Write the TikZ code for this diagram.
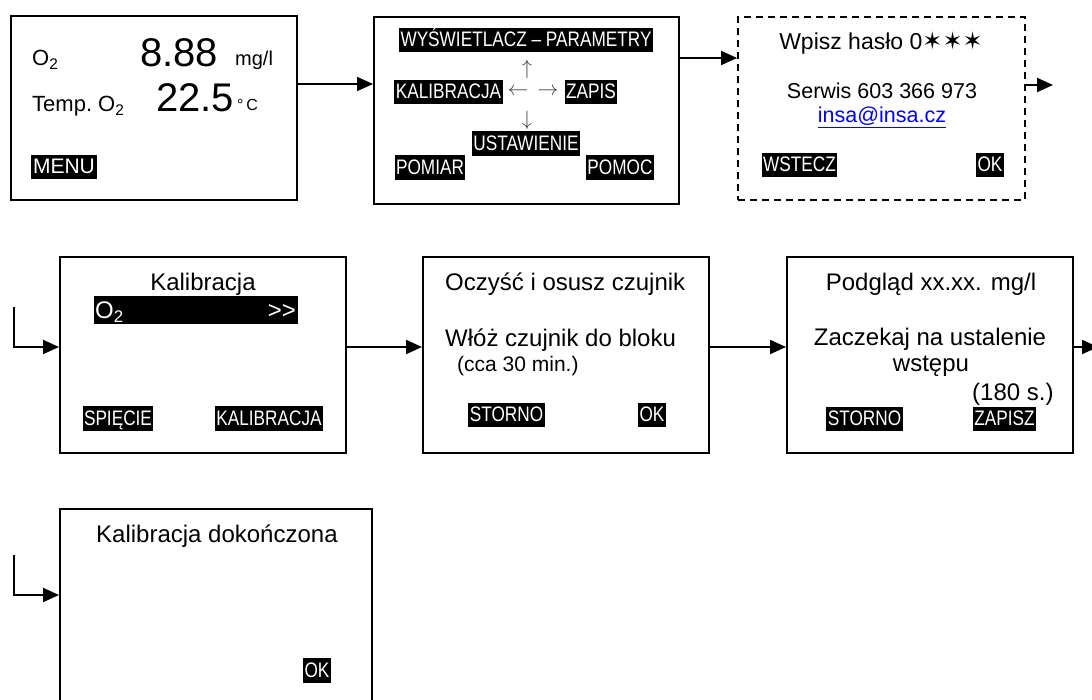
\documentclass[tikz,border=0pt]{standalone}
\usepackage{fontspec}
\setmainfont{Liberation Sans}
\newfontfamily\narrowfont[FakeStretch=0.82]{Liberation Sans}
\newfontfamily\symfont{DejaVu Sans}
\usetikzlibrary{arrows.meta}
\newcommand\myfs[1]{\fontsize{#1}{#1}\selectfont}
\tikzset{
 screen/.style={draw, line width=2pt, inner sep=0pt, anchor=center},
 dscreen/.style={screen, dash pattern=on 7pt off 5pt},
 txt/.style={inner sep=0pt, font=\myfs{24}},
 arr/.style={inner sep=0pt, font=\myfs{21}, text=black!75},
 lbl/.style={fill=black, text=white, inner xsep=1.5pt, inner ysep=1pt, text height=18pt, text depth=4.5pt, font=\narrowfont\myfs{21}},
 conn/.style={line width=2pt, -{Triangle[length=16pt,width=14pt]}},
}
\begin{document}
\begin{tikzpicture}[x=1pt,y=-1pt]
\useasboundingbox (0,0) rectangle (1092,700);
\clip (0,0) rectangle (1092,700);

% screens
\node[screen, minimum width=286pt, minimum height=184pt] (b1) at (154,108) {};
\node[screen, minimum width=305pt, minimum height=187pt] (b2) at (526.5,110.5) {};
\node[dscreen, minimum width=287pt, minimum height=183pt] (b3) at (881.5,108.5) {};
\node[screen, minimum width=286pt, minimum height=196pt] (b4) at (203,355) {};
\node[screen, minimum width=286pt, minimum height=196pt] (b5) at (566,355) {};
\node[screen, minimum width=286pt, minimum height=196pt] (b6) at (930,355) {};
\node[screen, minimum width=312pt, minimum height=206pt] (b7) at (216,612) {};

% screen 1
\node[txt, font=\myfs{22}, anchor=base west] (o2a) at (32,66) {O\textsubscript{2}};
\node[txt, font=\myfs{40}, anchor=base west] (v1) at (140,67) {8.88};
\node[txt, font=\myfs{20}, anchor=base west] (u1) at (235,66) {mg/l};
\node[txt, font=\myfs{22}, anchor=base west] (tmp) at (32,112) {Temp.\ O\textsubscript{2}};
\node[txt, font=\myfs{40}, anchor=base west] (v2) at (156,112) {22.5};
\node[txt, font=\myfs{16}, anchor=base west] (u2) at (237,111) {°\,C};
\node[lbl, font=\myfs{21}, inner xsep=2pt] (menu) at (64,167) {MENU};

% screen 2
\node[lbl] (wys) at (526,40) {WYŚWIETLACZ – PARAMETRY};
\node[arr] (up) at (527,69) {$\uparrow$};
\node[lbl] (kal) at (448.5,92) {KALIBRACJA};
\node[arr] (lt) at (518,92) {$\leftarrow$};
\node[arr] (rt) at (548,92) {$\rightarrow$};
\node[lbl] (zap) at (591,92) {ZAPIS};
\node[arr] (dn) at (527,120) {$\downarrow$};
\node[lbl] (ust) at (526,143.5) {USTAWIENIE};
\node[lbl] (pom) at (430,167.5) {POMIAR};
\node[lbl] (pmc) at (620,167.5) {POMOC};

% screen 3
\node[txt, font=\myfs{23}, anchor=base] (pw) at (881,50) {Wpisz hasło 0{\symfont\myfs{24}✶✶✶}};
\node[txt, font=\myfs{21.5}, anchor=base] (srv) at (882,99) {Serwis 603 366 973};
\node[txt, font=\myfs{21.5}, anchor=base, text=blue] (mail) at (882,123) {\underline{insa@insa.cz}};
\node[lbl] (wst) at (799.5,165) {WSTECZ};
\node[lbl] (ok1) at (990,165) {OK};

% screen 4
\node[txt, anchor=base] (kt) at (203,291) {Kalibracja};
\node[fill=black, minimum width=204pt, minimum height=28pt, inner sep=0pt] (bar) at (196,310) {};
\node[txt, text=white, anchor=base west] (bo2) at (95,319) {O\textsubscript{2}};
\node[txt, text=white, anchor=base east] (bgt) at (296,319) {>{}>};
\node[lbl] (spi) at (118,418.5) {SPIĘCIE};
\node[lbl] (kal2) at (269,418.5) {KALIBRACJA};

% screen 5
\node[txt, anchor=base west] (oc) at (445,291) {Oczyść i osusz czujnik};
\node[txt, anchor=base west] (wl) at (445,347) {Włóż czujnik do bloku};
\node[txt, font=\myfs{21}, anchor=base west] (cca) at (457,372) {(cca 30 min.)};
\node[lbl] (st1) at (506.5,415) {STORNO};
\node[lbl] (ok2) at (652,415) {OK};

% screen 6
\node[txt, anchor=base] (pg) at (931,291) {Podgląd xx.xx. mg/l};
\node[txt, anchor=base] (zc) at (930,346) {Zaczekaj na ustalenie};
\node[txt, anchor=base] (ws) at (931,372) {wstępu};
\node[txt, anchor=base west] (s180) at (972,400) {(180 s.)};
\node[lbl] (st2) at (864.5,419) {STORNO};
\node[lbl] (zps) at (1004.5,419) {ZAPISZ};

% screen 7
\node[txt, anchor=base west] (kd) at (96,542) {Kalibracja dokończona};
\node[lbl] (ok3) at (317,670.5) {OK};

% connectors
\coordinate (y84) at (0,84);
\coordinate (y58) at (0,58);
\coordinate (y347) at (0,347);
\coordinate (y595) at (0,595);
\coordinate (e3) at (1053,85);
\coordinate (e6) at (1098,347);
\coordinate (s4) at (14,307);
\coordinate (s7) at (14,555);
\draw[conn] (b1.east |- y84) -- (b2.west |- y84);
\draw[conn] (b2.east |- y58) -- (b3.west |- y58);
\draw[conn] (b3.east |- e3) -- (e3);
\draw[conn] (s4) |- (b4.west |- y347);
\draw[conn] (b4.east |- y347) -- (b5.west |- y347);
\draw[conn] (b5.east |- y347) -- (b6.west |- y347);
\draw[conn] (b6.east |- y347) -- (e6);
\draw[conn] (s7) |- (b7.west |- y595);
\end{tikzpicture}
\end{document}
